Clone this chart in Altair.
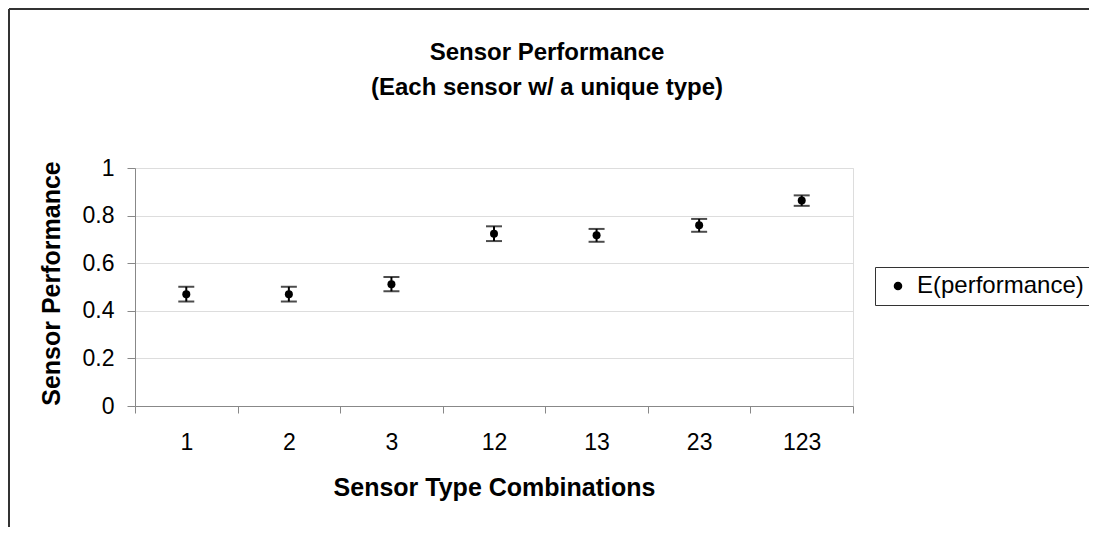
import altair as alt
import pandas as pd

categories = ["1", "2", "3", "12", "13", "23", "123"]
performance = [0.470, 0.470, 0.512, 0.724, 0.717, 0.759, 0.863]
error = [0.031, 0.031, 0.030, 0.031, 0.027, 0.027, 0.022]
series_name = "E(performance)"
y_ticks = [0, 0.2, 0.4, 0.6, 0.8, 1.0]

df = pd.DataFrame({"combo": categories, "perf": performance, "err": error})
df["lo"] = df["perf"] - df["err"]
df["hi"] = df["perf"] + df["err"]
df["series"] = series_name

FONT = "Arial, Liberation Sans, sans-serif"
W, H = 718, 238

x_enc = alt.X(
    "combo:N",
    sort=categories,
    scale=alt.Scale(paddingInner=0, paddingOuter=0),
    axis=alt.Axis(
        title="Sensor Type Combinations",
        labelAngle=0,
        tickBand="extent",
        grid=False,
        tickSize=7,
        labelPadding=18,
        labelFontSize=23,
        labelFont=FONT,
        titleFont=FONT,
        titleFontSize=25,
        titleFontWeight="bold",
        titleX=359,
        titleY=81,
        titleBaseline="middle",
    ),
)

y_scale = alt.Scale(domain=[0, 1], nice=False, zero=True)

base = alt.Chart(df)

stems = base.mark_rule(color="black", strokeWidth=2).encode(
    x=x_enc,
    y=alt.Y(
        "lo:Q",
        scale=y_scale,
        axis=alt.Axis(
            title="Sensor Performance",
            values=y_ticks,
            format="~g",
            grid=True,
            tickSize=8,
            labelPadding=13,
            labelFontSize=23,
            labelFont=FONT,
            titleFont=FONT,
            titleFontSize=25,
            titleFontWeight="bold",
            titleX=-84,
            titleY=115,
            titleBaseline="middle",
        ),
    ),
    y2="hi:Q",
)

caps_lo = base.mark_tick(color="black", size=16, thickness=2, orient="horizontal").encode(
    x=alt.X("combo:N", sort=categories), y=alt.Y("lo:Q", scale=y_scale)
)
caps_hi = base.mark_tick(color="black", size=16, thickness=2, orient="horizontal").encode(
    x=alt.X("combo:N", sort=categories), y=alt.Y("hi:Q", scale=y_scale)
)

points = base.mark_point(filled=True, size=64, opacity=1).encode(
    x=alt.X("combo:N", sort=categories),
    y=alt.Y("perf:Q", scale=y_scale),
    color=alt.Color(
        "series:N",
        scale=alt.Scale(range=["black"]),
        legend=alt.Legend(
            title=None,
            orient="none",
            legendX=740,
            legendY=99,
            strokeColor="#333333",
            padding=7,
            symbolType="circle",
            symbolSize=50,
            symbolFillColor="black",
            symbolStrokeColor="black",
            symbolOffset=4,
            labelOffset=7,
            labelFontSize=24,
            labelFont=FONT,
            labelColor="black",
            labelLimit=400,
        ),
    ),
)

frame_df = pd.DataFrame({"k": [0]})
frame_v = alt.Chart(frame_df).mark_rule(color="#333333", strokeWidth=2).encode(
    x=alt.value(-126), y=alt.value(-159), y2=alt.value(359)
)
frame_h = alt.Chart(frame_df).mark_rule(color="#333333", strokeWidth=2).encode(
    x=alt.value(-126), x2=alt.value(954), y=alt.value(-159)
)

chart = (
    alt.layer(stems, caps_lo, caps_hi, points, frame_v, frame_h)
    .properties(
        width=W,
        height=H,
        title=alt.TitleParams(
            text=["Sensor Performance", "(Each sensor w/ a unique type)"],
            font=FONT,
            fontSize=24,
            fontWeight="bold",
            color="black",
            anchor="middle",
            frame="group",
            dx=53,
            offset=-92,
            lineHeight=35,
        ),
        autosize=alt.AutoSizeParams(type="none"),
        padding={"left": 127, "top": 160, "right": 236, "bottom": 121},
    )
    .configure_view(stroke="#606060", strokeWidth=1)
    .configure_axis(
        domainColor="black",
        tickColor="black",
        labelColor="black",
        titleColor="black",
        gridColor="#606060",
        domainWidth=1,
        tickWidth=1,
    )
    .configure(background="white")
)

chart.save("out.html", embed_options={"renderer": "svg", "actions": False})
